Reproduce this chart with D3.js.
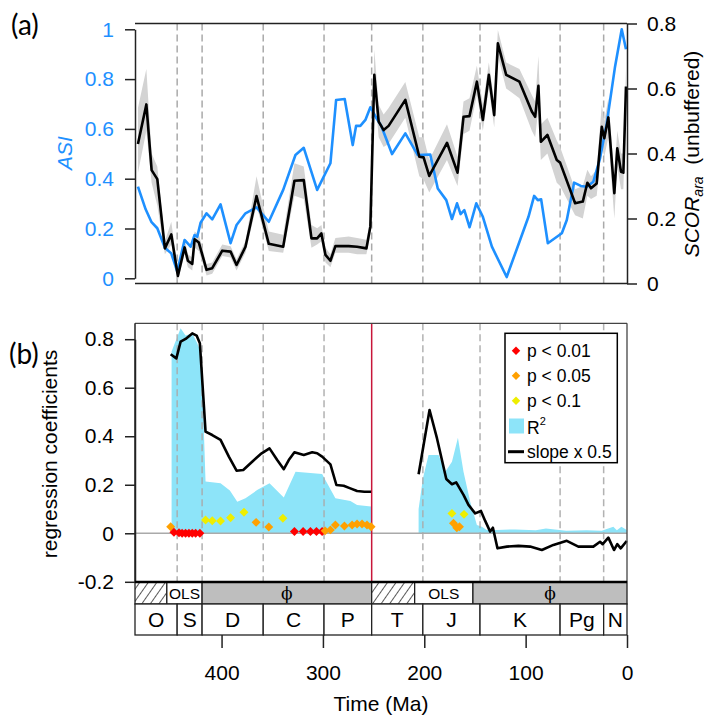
<!DOCTYPE html>
<html><head><meta charset="utf-8">
<script src="https://cdn.jsdelivr.net/npm/d3@7"></script>
<style>
body{margin:0;background:#fff}
svg{display:block}
text{font-family:"Liberation Sans",Arial,sans-serif}
</style>
</head><body>
<svg id="c" width="708" height="718"></svg>
<script>
// ---------------- data ----------------
const periodNames = ["O","S","D","C","P","T","J","K","Pg","N"];
const periodStart = [485.4,443.8,419.2,358.9,298.9,251.9,201.4,145.0,66.0,23.03];
const periodEnd   = [443.8,419.2,358.9,298.9,251.9,201.4,145.0,66.0,23.03,0];

const methodLabels = ["","OLS","\u03D5","","OLS","\u03D5"];
const methodKind   = ["hatch","open","gray","hatch","open","gray"];
const methodStart  = [485.4,454.0,419.2,251.9,209.5,152.0];
const methodEnd    = [454.0,419.2,251.9,209.5,152.0,0];

const timeTicks = [400,300,200,100,0];
const asiTicks  = [0,0.2,0.4,0.6,0.8,1];
const scorTicks = [0,0.2,0.4,0.6,0.8];
const coefTicks = [-0.2,0,0.2,0.4,0.6,0.8];

const asiTime = [482.5,474.9,469.3,463.4,455.9,449.6,443.7,441.1,436.5,430.5,426.6,424.0,420.7,414.8,409.2,401.0,391.1,385.2,376.4,365.5,353.4,339.2,327.1,318.9,305.7,292.6,287.0,278.5,270.6,267.3,263.1,258.1,253.2,247.3,242.4,231.8,218.7,206.4,194.1,186.7,178.3,172.7,167.7,164.2,160.5,155.3,148.7,142.2,133.3,118.7,106.1,97.2,91.6,88.0,84.7,78.1,64.3,59.4,52.2,45.6,39.7,33.2,26.6,20.0,11.8,5.2,1.0];
const asiValue = [0.368,0.277,0.227,0.201,0.123,0.100,0.027,0.073,0.154,0.127,0.174,0.167,0.223,0.261,0.237,0.297,0.141,0.214,0.261,0.285,0.227,0.355,0.495,0.524,0.355,0.462,0.716,0.720,0.535,0.612,0.612,0.636,0.687,0.644,0.612,0.499,0.582,0.495,0.497,0.361,0.314,0.238,0.301,0.258,0.274,0.205,0.301,0.247,0.127,0.005,0.147,0.247,0.331,0.314,0.317,0.141,0.181,0.234,0.384,0.371,0.368,0.388,0.482,0.622,0.850,1.000,0.920];

const scorTime = [482.5,474.2,469.0,463.4,455.9,449.6,443.1,436.5,433.2,428.9,426.6,422.4,414.8,409.2,399.3,391.1,385.2,376.4,365.5,353.4,339.2,328.1,318.9,311.3,305.7,301.5,297.5,292.6,287.7,274.6,266.3,257.1,253.2,249.3,245.0,240.1,235.2,218.7,204.9,200.7,195.1,177.6,167.2,161.3,155.4,148.1,142.2,136.3,131.0,127.4,119.2,106.1,93.9,90.6,87.4,85.0,78.5,69.3,66.0,51.2,43.6,39.1,35.5,29.9,24.9,22.4,18.4,12.5,9.6,5.9,3.6,1.0];
const scorValue = [0.429,0.551,0.349,0.321,0.108,0.151,0.023,0.111,0.070,0.060,0.136,0.126,0.042,0.047,0.101,0.098,0.057,0.113,0.269,0.122,0.113,0.316,0.318,0.139,0.139,0.154,0.088,0.070,0.115,0.115,0.113,0.108,0.175,0.642,0.498,0.472,0.485,0.565,0.390,0.388,0.331,0.433,0.341,0.513,0.515,0.621,0.503,0.642,0.518,0.739,0.642,0.621,0.529,0.513,0.608,0.436,0.457,0.380,0.372,0.247,0.252,0.310,0.293,0.308,0.482,0.447,0.511,0.278,0.416,0.344,0.341,0.606];
const scorLower = [0.34,0.47,0.31,0.24,0.09,0.12,0.01,0.09,0.05,0.04,0.11,0.10,0.025,0.03,0.085,0.08,0.04,0.095,0.24,0.10,0.095,0.27,0.26,0.11,0.12,0.13,0.065,0.05,0.095,0.095,0.09,0.09,0.15,0.60,0.45,0.42,0.43,0.51,0.33,0.32,0.28,0.38,0.30,0.46,0.47,0.58,0.47,0.60,0.48,0.70,0.60,0.57,0.47,0.45,0.54,0.38,0.40,0.31,0.30,0.21,0.20,0.27,0.26,0.27,0.42,0.39,0.45,0.20,0.36,0.29,0.29,0.55];
const scorUpper = [0.54,0.66,0.40,0.36,0.13,0.19,0.04,0.14,0.09,0.08,0.16,0.15,0.06,0.065,0.12,0.115,0.075,0.13,0.33,0.16,0.15,0.37,0.36,0.18,0.17,0.18,0.11,0.09,0.14,0.145,0.14,0.135,0.20,0.72,0.55,0.52,0.54,0.62,0.45,0.45,0.38,0.49,0.39,0.56,0.57,0.67,0.55,0.68,0.56,0.78,0.68,0.66,0.58,0.56,0.70,0.49,0.51,0.44,0.42,0.29,0.30,0.35,0.33,0.35,0.55,0.50,0.57,0.33,0.47,0.40,0.40,0.66];

const slopeTimeA = [450.2,444.6,440.4,435.5,428.9,424.6,421.4,415.8,409.2,401.0,392.8,385.2,378.6,369.8,361.6,352.7,345.1,338.6,333.7,328.1,318.9,310.6,305.7,300.8,292.6,286.7,279.5,273.6,266.3,259.1,252.5];
const slopeA = [0.738,0.721,0.790,0.801,0.824,0.815,0.783,0.419,0.405,0.385,0.316,0.258,0.261,0.295,0.326,0.350,0.302,0.264,0.302,0.334,0.323,0.334,0.330,0.316,0.284,0.199,0.196,0.186,0.174,0.171,0.171];
const r2TimeA = [449.3,444.6,440.4,435.5,428.9,424.0,420.0,415.8,401.0,391.8,384.5,376.4,364.9,352.7,338.6,327.0,300.8,287.7,272.9,266.3,252.5];
const r2A = [0.749,0.800,0.845,0.815,0.824,0.783,0.743,0.213,0.206,0.176,0.130,0.144,0.178,0.206,0.147,0.254,0.244,0.144,0.133,0.117,0.110];

const slopeTimeB = [205.6,194.8,187.5,178.3,172.7,168.5,161.3,156.4,149.8,144.1,139.9,135.0,132.3,127.8,118.5,107.1,95.6,84.0,72.6,59.4,48.0,33.2,26.6,24.0,18.4,12.8,9.6,6.2,0.3];
const slopeB = [0.243,0.508,0.392,0.224,0.202,0.210,0.158,0.117,0.082,0.092,0.051,0.007,0.023,-0.062,-0.055,-0.052,-0.055,-0.069,-0.048,-0.031,-0.055,-0.055,-0.035,-0.045,-0.018,-0.069,-0.045,-0.062,-0.032];
const r2TimeB = [205.6,201.3,195.8,185.9,179.3,172.7,166.8,161.3,154.7,148.1,143.2,138.4,128.4,110,90,80,60,40,25,13.5,10,5.5,0.3];
const r2B = [0.10,0.227,0.323,0.323,0.254,0.295,0.394,0.254,0.130,0.034,0.027,0.014,0.014,0.016,0.012,0.02,0.01,0.012,0.01,0.027,0.012,0.027,0.014];

const pTime = [450.2,447.0,442.0,438.9,435.5,432.2,428.9,425.6,421.4,415.8,409.2,401.0,391.1,377.9,365.9,353.4,339.5,328.1,319.5,312.3,306.4,300.8,297.8,292.6,287.7,278.8,271.2,266.3,261.4,256.5,252.5,172.7,160.8,171.2,167.9,165.3];
const pCoef = [0.027,0.004,0.002,0,0,0,0,0,0,0.055,0.052,0.051,0.064,0.087,0.045,0.026,0.062,0.007,0.007,0.007,0.007,0.007,0.010,0.014,0.034,0.030,0.034,0.038,0.038,0.034,0.027,0.082,0.078,0.041,0.023,0.027];
const pLevel = ["0.05","0.01","0.01","0.01","0.01","0.01","0.01","0.01","0.01","0.1","0.1","0.1","0.1","0.1","0.05","0.05","0.1","0.01","0.01","0.01","0.01","0.01","0.05","0.05","0.05","0.05","0.05","0.05","0.05","0.05","0.05","0.1","0.1","0.05","0.05","0.05"];

const legendLevels = ["0.01","0.05","0.1"];

// ---------------- styles ----------------
const C = {asi:"#1E90FF", band:"#D3D3D3", r2:"#8DE4F9", red:"#C8163A",
  p:{"0.01":"#FF0000","0.05":"#FFA000","0.1":"#EEEE00"}, dash:"#AAAAAA", gray:"#BEBEBE"};
const FS = 21;
const SANS = "'Liberation Sans',Arial,sans-serif";

const svg = d3.select("#c");
const defs = svg.append("defs");
const pat = defs.append("pattern").attr("id","hatch").attr("patternUnits","userSpaceOnUse")
  .attr("width",7).attr("height",7).attr("patternTransform","rotate(35)");
pat.append("rect").attr("width",7).attr("height",7).attr("fill","#fff");
pat.append("line").attr("x1",0).attr("y1",0).attr("x2",0).attr("y2",7).attr("stroke","#000").attr("stroke-width",1.3);

const x = d3.scaleLinear().domain([485.4,0]).range([135,627]);
const X0 = 135, X1 = 627;

// ---------------- panel (a) ----------------
const yA = d3.scaleLinear().domain([0,1]).range([278.3,29.3]);
const yS = d3.scaleLinear().domain([0,0.8]).range([283.5,23.5]);
const A_TOP = 23.5, A_BOT = 283.5;
const gA = svg.append("g");

const bounds = periodStart.slice(1);
gA.selectAll("line.bd").data(bounds).join("line")
  .attr("x1",d=>x(d)).attr("x2",d=>x(d)).attr("y1",A_TOP).attr("y2",A_BOT)
  .attr("stroke",C.dash).attr("stroke-width",1.5).attr("stroke-dasharray","7,4");

const sIdx = d3.range(scorTime.length);
gA.append("path").datum(sIdx)
  .attr("d", d3.area().x(i=>x(scorTime[i])).y0(i=>yS(scorLower[i])).y1(i=>yS(scorUpper[i])))
  .attr("fill",C.band);

const aIdx = d3.range(asiTime.length);
gA.append("path").datum(aIdx)
  .attr("d", d3.line().x(i=>x(asiTime[i])).y(i=>yA(asiValue[i])))
  .attr("fill","none").attr("stroke",C.asi).attr("stroke-width",2.6).attr("stroke-linejoin","round");

gA.append("path").datum(sIdx)
  .attr("d", d3.line().x(i=>x(scorTime[i])).y(i=>yS(scorValue[i])))
  .attr("fill","none").attr("stroke","#000").attr("stroke-width",2.6).attr("stroke-linejoin","round");

gA.append("line").attr("x1",X0).attr("x2",X1).attr("y1",A_TOP).attr("y2",A_TOP).attr("stroke","#222").attr("stroke-width",1.3);
gA.append("line").attr("x1",X0).attr("x2",X1).attr("y1",A_BOT).attr("y2",A_BOT).attr("stroke","#222").attr("stroke-width",1.3);

function styleAxis(g, color){
  g.select("path.domain").attr("stroke","#222").attr("stroke-width",1.5);
  g.selectAll(".tick line").attr("stroke","#222").attr("stroke-width",1.5);
  g.selectAll(".tick text").attr("font-size",FS).attr("fill",color||"#000")
    .style("font-family",SANS);
}
const fmt = d => String(d);

const axA = gA.append("g").attr("transform",`translate(${X0},0)`)
  .call(d3.axisLeft(yA).tickValues(asiTicks).tickFormat(fmt).tickSize(10).tickSizeOuter(0).tickPadding(11));
styleAxis(axA, C.asi);

const axS = gA.append("g").attr("transform",`translate(${X1},0)`)
  .call(d3.axisRight(yS).tickValues(scorTicks).tickFormat(fmt).tickSize(10).tickSizeOuter(0).tickPadding(10));
styleAxis(axS, "#000");

svg.append("text").attr("transform","translate(72,153) rotate(-90)")
  .attr("text-anchor","middle").attr("font-size",FS).attr("font-style","italic")
  .attr("fill",C.asi).text("ASI");

const sl = svg.append("text").attr("transform","translate(699,154) rotate(-90)")
  .attr("text-anchor","middle").attr("font-size",FS).attr("fill","#000");
sl.append("tspan").attr("font-style","italic").text("SCOR");
sl.append("tspan").attr("font-style","italic").attr("font-size",14).attr("dy",4).text("ara");
sl.append("tspan").attr("dy",-4).text("\u00A0\u00A0(unbuffered)");

svg.append("text").attr("x",11).attr("y",35).attr("font-size",28)
  .style("font-family","Lato,'Open Sans',sans-serif").text("(a)");
svg.append("text").attr("x",9).attr("y",364).attr("font-size",28)
  .style("font-family","Lato,'Open Sans',sans-serif").text("(b)");

// ---------------- panel (b) ----------------
const yB = d3.scaleLinear().domain([-0.2,0.8]).range([581.8,339.2]);
const B_TOP = 323.3, B_BOT = 581.8;
const gB = svg.append("g");

gB.append("path").datum(d3.range(r2TimeA.length))
  .attr("d", d3.area().x(i=>x(r2TimeA[i])).y0(yB(0)).y1(i=>yB(r2A[i])))
  .attr("fill",C.r2);
gB.append("path").datum(d3.range(r2TimeB.length))
  .attr("d", d3.area().x(i=>x(r2TimeB[i])).y0(yB(0)).y1(i=>yB(r2B[i])))
  .attr("fill",C.r2);

gB.selectAll("line.bd").data(bounds.filter(d=>d!==251.9)).join("line")
  .attr("x1",d=>x(d)).attr("x2",d=>x(d)).attr("y1",B_TOP).attr("y2",B_BOT)
  .attr("stroke",C.dash).attr("stroke-width",1.5).attr("stroke-dasharray","7,4").attr("opacity",0.9);

gB.append("line").attr("x1",X0).attr("x2",X1).attr("y1",yB(0)).attr("y2",yB(0))
  .attr("stroke","#AAAAAA").attr("stroke-width",1.5);

gB.append("line").attr("x1",x(251.9)).attr("x2",x(251.9)).attr("y1",B_TOP).attr("y2",B_BOT)
  .attr("stroke",C.red).attr("stroke-width",1.5);

gB.append("path").datum(d3.range(slopeTimeA.length))
  .attr("d", d3.line().x(i=>x(slopeTimeA[i])).y(i=>yB(slopeA[i])))
  .attr("fill","none").attr("stroke","#000").attr("stroke-width",2.6).attr("stroke-linejoin","round");
gB.append("path").datum(d3.range(slopeTimeB.length))
  .attr("d", d3.line().x(i=>x(slopeTimeB[i])).y(i=>yB(slopeB[i])))
  .attr("fill","none").attr("stroke","#000").attr("stroke-width",2.6).attr("stroke-linejoin","round");

const diamond = d3.symbol(d3.symbolSquare, 40);
gB.selectAll("path.pt").data(d3.range(pTime.length)).join("path")
  .attr("d", diamond)
  .attr("transform", i=>`translate(${x(pTime[i])},${yB(pCoef[i])}) rotate(45)`)
  .attr("fill", i=>C.p[pLevel[i]]);

// frame
gB.append("line").attr("x1",X0).attr("x2",X1).attr("y1",B_TOP).attr("y2",B_TOP).attr("stroke","#444").attr("stroke-width",1.3);
gB.append("line").attr("x1",X1).attr("x2",X1).attr("y1",B_TOP).attr("y2",B_BOT).attr("stroke","#444").attr("stroke-width",1.3);
gB.append("line").attr("x1",X0).attr("x2",X0).attr("y1",B_TOP).attr("y2",B_BOT).attr("stroke","#222").attr("stroke-width",1.5);

const axB = gB.append("g").attr("transform",`translate(${X0},0)`)
  .call(d3.axisLeft(yB).tickValues(coefTicks).tickFormat(fmt).tickSize(10).tickSizeOuter(0).tickPadding(11));
styleAxis(axB, "#000");

svg.append("text").attr("transform","translate(57,454) rotate(-90)")
  .attr("text-anchor","middle").attr("font-size",FS).text("regression coefficients");

// legend
const lg = svg.append("g");
lg.append("rect").attr("x",505).attr("y",333.3).attr("width",112.3).attr("height",129.4)
  .attr("fill","#fff").attr("stroke","#000").attr("stroke-width",1.5);
const legY = [350.7,375.7,400.7,426,451.7];
lg.selectAll("path.ld").data(legendLevels).join("path")
  .attr("d", d3.symbol(d3.symbolSquare, 36))
  .attr("transform",(d,i)=>`translate(516,${legY[i]}) rotate(45)`)
  .attr("fill",d=>C.p[d]);
lg.selectAll("text.lt").data(legendLevels).join("text")
  .attr("x",527).attr("y",(d,i)=>legY[i]).attr("dy","0.35em").attr("font-size",17.5)
  .text(d=>"p < "+d);
lg.append("rect").attr("x",509).attr("y",legY[3]-7.5).attr("width",15).attr("height",15).attr("fill",C.r2);
const r2t = lg.append("text").attr("x",527).attr("y",legY[3]).attr("dy","0.45em").attr("font-size",17.5);
r2t.append("tspan").text("R");
r2t.append("tspan").attr("font-size",11).attr("dy",-9).text("2");
lg.append("line").attr("x1",508).attr("x2",524).attr("y1",legY[4]).attr("y2",legY[4]).attr("stroke","#000").attr("stroke-width",3);
lg.append("text").attr("x",527).attr("y",legY[4]).attr("dy","0.35em").attr("font-size",17.5).text("slope x 0.5");

// ---------------- timescale ----------------
const T0 = 582, T1 = 604, T2 = 635;
const gT = svg.append("g");
const mIdx = d3.range(methodLabels.length);
gT.selectAll("rect.m").data(mIdx).join("rect")
  .attr("x",i=>x(methodStart[i])).attr("width",i=>x(methodEnd[i])-x(methodStart[i]))
  .attr("y",T0).attr("height",T1-T0)
  .attr("fill",i=>methodKind[i]==="hatch"?"url(#hatch)":methodKind[i]==="gray"?C.gray:"#fff")
  .attr("stroke","#222").attr("stroke-width",1.3);
gT.selectAll("text.m").data(mIdx.filter(i=>methodLabels[i])).join("text")
  .attr("x",i=>(x(methodStart[i])+x(methodEnd[i]))/2).attr("y",(T0+T1)/2)
  .attr("text-anchor","middle").attr("dy","0.36em")
  .attr("font-size",i=>methodKind[i]==="gray"?17:15.5)
  .style("font-family",i=>methodKind[i]==="gray"?"'DejaVu Serif',serif":SANS)
  .text(i=>methodLabels[i]);

const pIdx = d3.range(periodNames.length);
gT.selectAll("rect.p").data(pIdx).join("rect")
  .attr("x",i=>x(periodStart[i])).attr("width",i=>x(periodEnd[i])-x(periodStart[i]))
  .attr("y",T1).attr("height",T2-T1)
  .attr("fill","#fff").attr("stroke","#222").attr("stroke-width",1.3);
gT.selectAll("text.p").data(pIdx).join("text")
  .attr("x",i=>(x(periodStart[i])+x(periodEnd[i]))/2).attr("y",(T1+T2)/2)
  .attr("text-anchor","middle").attr("dy","0.36em").attr("font-size",FS)
  .text(i=>periodNames[i]);

gT.append("line").attr("x1",X0).attr("x2",X1).attr("y1",T0).attr("y2",T0).attr("stroke","#000").attr("stroke-width",2.6);

const axT = gT.append("g").attr("transform",`translate(0,${T2})`)
  .call(d3.axisBottom(x).tickValues(timeTicks).tickSize(13).tickSizeOuter(0).tickPadding(17));
axT.select("path.domain").remove();
styleAxis(axT,"#000");

svg.append("text").attr("x",(X0+X1)/2).attr("y",711).attr("text-anchor","middle")
  .attr("font-size",FS).text("Time (Ma)");
</script>
</body></html>
